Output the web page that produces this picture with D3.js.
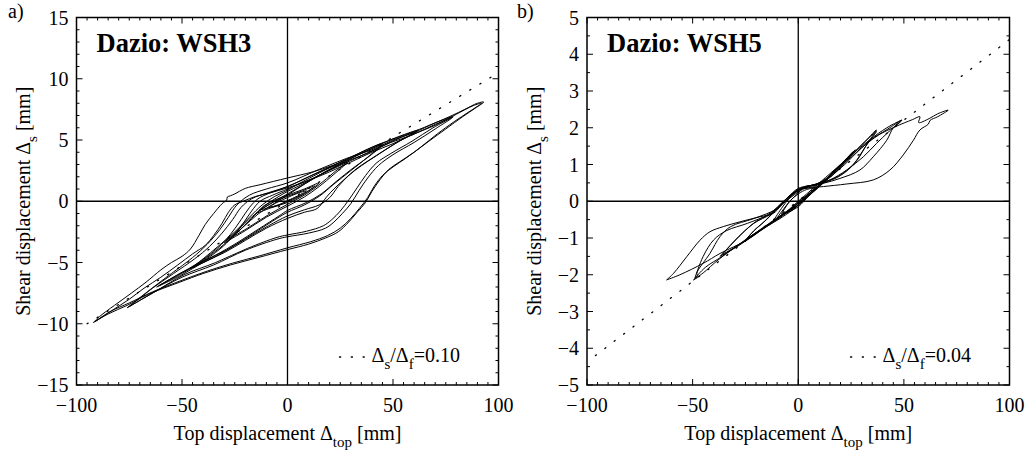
<!DOCTYPE html>
<html lang="en">
<head>
<meta charset="UTF-8">
<title>shear vs top displacement</title>
<script src="https://cdn.jsdelivr.net/npm/d3@7/dist/d3.min.js"></script>
<style>
    * { margin: 0; padding: 0; }
    body { background: #fff; }
    svg text { font-family: "Liberation Serif", "Times New Roman", serif; fill: #000; }
    .curve { fill: none; stroke: #000; stroke-width: 1; }
    .ref { fill: none; stroke: #000; stroke-width: 1.3; stroke-dasharray: 1.2 10.6; stroke-linecap: round; }
</style>
</head>
<body>
<div id="chart"></div>
<script>
// ---- data ----
var xTicks = [-100, -50, 0, 50, 100];
var yTicksA = [-15, -10, -5, 0, 5, 10, 15];
var yTicksB = [-5, -4, -3, -2, -1, 0, 1, 2, 3, 4, 5];

// panel a) Dazio: WSH3, loops as [top displacement, shear displacement]
var loopsA = [
    // outer cycle +/-92
    [[-92,-9.9],[-85,-9.2],[-76,-8.5],[-66,-7.6],[-51,-6.6],[-40,-5.9],[-27,-5.2],[-14,-4.6],[0,-3.95],[10,-3.5],[18,-3.0],[24,-2.5],[29,-1.7],[33,-0.9],[37,-0.1],[40,0.8],[44,1.8],[48,2.6],[53,3.2],[60,4.0],[67,4.9],[75,5.9],[83,6.9],[89,7.6],[93,8.1],
     [90,8.0],[84,7.5],[78,7.0],[70,6.4],[60,5.7],[52,5.2],[44,4.7],[36,4.1],[28,3.4],[21,2.9],[12,2.4],[0,1.9],[-13,1.35],[-20,1.05],[-25,0.6],[-27,0.45],[-28.5,0.35],[-28.8,0.1],[-31,-0.2],[-35,-1.0],[-39,-1.9],[-42,-2.8],[-46,-3.9],[-50,-4.5],[-55,-5.0],[-60,-5.6],[-67,-6.6],[-74,-7.5],[-82,-8.5],[-89,-9.4],[-92,-9.9]],
    // second cycle +/-92
    [[-91,-9.8],[-84,-9.0],[-75,-8.3],[-64,-7.4],[-50,-6.45],[-38,-5.7],[-26,-5.05],[-13,-4.45],[0,-3.8],[11,-3.3],[19,-2.8],[25,-2.2],[30,-1.4],[34,-0.6],[38,0.3],[41,1.2],[45,2.1],[50,2.8],[56,3.5],[63,4.4],[71,5.5],[79,6.5],[86,7.3],[92,8.0],
     [88,7.8],[80,7.1],[70,6.2],[60,5.5],[50,4.7],[40,4.0],[30,3.2],[20,2.4],[10,1.7],[0,1.1],[-8,0.7],[-15,0.4],[-21,0.0],[-25,-0.3],[-28,-0.9],[-31,-1.8],[-35,-2.8],[-39,-3.6],[-45,-4.3],[-52,-5.2],[-60,-6.2],[-68,-7.1],[-75,-8.0],[-83,-8.9],[-91,-9.8]],
    // +/-77
    [[-76,-8.7],[-65,-7.6],[-50,-6.2],[-35,-5.2],[-20,-4.0],[-5,-3.1],[0,-2.9],[10,-2.6],[18,-2.2],[22,-1.7],[26,-1.0],[30,-0.2],[34,0.9],[38,1.9],[43,2.9],[50,3.8],[60,4.8],[70,5.9],[78.5,6.9],
     [70,6.4],[60,5.6],[50,5.0],[40,4.2],[28,3.5],[15,2.6],[0,1.5],[-10,1.0],[-18,0.5],[-24,-0.3],[-28,-1.3],[-32,-2.3],[-38,-3.5],[-45,-4.6],[-55,-5.9],[-65,-7.2],[-76,-8.7]],
    [[-75,-8.6],[-63,-7.4],[-49,-6.0],[-34,-5.0],[-19,-3.85],[-5,-2.95],[0,-2.75],[9,-2.45],[17,-2.0],[21,-1.5],[25,-0.8],[29,0.1],[33,1.1],[37,2.1],[42,3.1],[49,3.9],[59,4.9],[69,6.0],[78,6.85],
     [69,6.2],[59,5.4],[49,4.8],[39,4.0],[27,3.2],[14,2.3],[0,1.2],[-9,0.7],[-17,0.2],[-22,-0.5],[-26,-1.5],[-31,-2.6],[-37,-3.7],[-44,-4.7],[-54,-5.9],[-64,-7.1],[-75,-8.6]],
    // +/-62
    [[-62,-7.0],[-50,-6.0],[-40,-5.0],[-30,-4.2],[-20,-3.2],[-10,-2.2],[0,-1.4],[8,-0.9],[14,-0.6],[18.5,0.35],[22,1.0],[27,1.8],[33,2.7],[40,3.5],[50,4.6],[62,5.8],
     [50,5.1],[40,4.3],[30,3.5],[20,2.8],[10,2.0],[0,1.2],[-8,0.7],[-14,0.2],[-18,-0.5],[-22,-1.5],[-27,-2.7],[-33,-3.8],[-42,-5.0],[-52,-6.0],[-62,-7.0]],
    [[-61,-6.9],[-49,-5.8],[-39,-4.8],[-29,-4.0],[-19,-3.0],[-9,-2.0],[0,-1.2],[8,-0.7],[15,-0.3],[20,0.3],[24,1.2],[29,2.1],[35,2.9],[42,3.7],[51,4.7],[61,5.7],
     [51,5.0],[41,4.2],[31,3.4],[21,2.6],[11,1.8],[0,1.0],[-7,0.5],[-13,0.0],[-17,-0.8],[-21,-1.8],[-26,-2.9],[-32,-3.9],[-41,-5.0],[-51,-5.9],[-61,-6.9]],
    // +/-46
    [[-46,-5.5],[-35,-4.6],[-25,-3.6],[-15,-2.5],[-5,-1.4],[0,-0.9],[8,-0.3],[15,0.4],[22,1.4],[30,2.5],[38,3.6],[45,4.7],
     [35,4.0],[25,3.2],[15,2.3],[5,1.4],[0,0.9],[-6,0.4],[-12,-0.3],[-18,-1.3],[-25,-2.5],[-33,-3.7],[-40,-4.7],[-46,-5.5]],
    [[-45,-5.4],[-34,-4.4],[-24,-3.4],[-14,-2.3],[-4,-1.2],[0,-0.75],[9,-0.1],[16,0.6],[23,1.6],[31,2.7],[39,3.7],[45,4.6],
     [36,4.0],[26,3.1],[16,2.2],[6,1.3],[0,0.8],[-5,0.3],[-11,-0.4],[-17,-1.4],[-24,-2.6],[-32,-3.8],[-39,-4.7],[-45,-5.4]],
    // +/-30
    [[-30,-3.4],[-20,-2.4],[-10,-1.3],[0,-0.4],[8,0.35],[15,1.2],[22,2.2],[29,3.3],
     [20,2.6],[10,1.6],[0,0.6],[-8,-0.2],[-15,-1.0],[-22,-2.1],[-30,-3.4]],
    [[-29,-3.2],[-19,-2.2],[-9,-1.1],[0,-0.25],[8,0.5],[15,1.35],[22,2.35],[28,3.2],
     [19,2.5],[9,1.5],[0,0.5],[-7,-0.25],[-14,-1.05],[-21,-2.1],[-29,-3.2]],
    // small cycles around origin
    [[-15,-1.0],[-8,-0.55],[0,-0.1],[8,0.6],[15,1.5],[8,1.0],[0,0.5],[-6,0.1],[-11,-0.35],[-15,-1.0]],
    [[-13,-0.7],[-7,-0.45],[0,0.0],[7,0.55],[13,1.25],[7,0.85],[0,0.4],[-6,0.0],[-13,-0.7]],
    [[-9,-0.5],[-4,-0.3],[0,0.05],[5,0.45],[9,0.85],[4,0.6],[0,0.3],[-5,-0.1],[-9,-0.5]]
];
var refA = [[-95, -10.0], [100, 10.5]];

// panel b) Dazio: WSH5
var loopsB = [
    // outer cycle
    [[-62.3,-2.14],[-56,-2.0],[-45,-1.69],[-37,-1.42],[-24.4,-1.06],[-15,-0.69],[-8.6,-0.47],[-3,-0.25],[0,-0.1],[5,0.15],[10,0.4],[15,0.65],[22,1.0],[30,1.45],[38,1.8],[46,2.03],[54,2.22],[57.6,2.3],[57,2.14],[62,2.25],[66,2.38],[71,2.48],
     [66,2.3],[62.4,2.2],[61.6,2.1],[57.6,1.94],[54.5,1.66],[49.7,1.26],[43.4,0.85],[35.5,0.58],[22.9,0.47],[11.9,0.4],[5,0.36],[0,0.3],[-5,0.1],[-11.8,-0.33],[-18,-0.42],[-27.6,-0.56],[-35.5,-0.69],[-41.8,-0.83],[-46.5,-1.06],[-52.8,-1.51],[-59,-1.96],[-62.3,-2.14]],
    // +/-50
    [[-49.6,-2.14],[-45,-1.95],[-38,-1.6],[-30,-1.25],[-20,-0.85],[-10,-0.45],[0,-0.05],[8,0.35],[15,0.7],[25,1.2],[35,1.7],[42,1.95],[49,2.21],
     [45,2.0],[41.9,1.66],[35.5,1.21],[29.2,0.85],[19.7,0.62],[11.9,0.49],[5,0.42],[0,0.35],[-5,0.1],[-10,-0.2],[-21,-0.47],[-32,-0.69],[-37,-0.96],[-41.8,-1.42],[-48,-1.96],[-47.5,-2.05],[-49.6,-2.14]],
    [[-49,-2.1],[-44,-1.8],[-36,-1.5],[-26,-1.1],[-16,-0.7],[-8,-0.4],[0,0.0],[8,0.4],[18,0.9],[28,1.4],[38,1.85],[45,2.1],[49,2.2],
     [43,1.9],[37,1.57],[30.8,1.21],[22.9,0.85],[15,0.58],[8,0.45],[0,0.32],[-6,0.05],[-14,-0.35],[-24,-0.6],[-34,-0.8],[-40,-1.05],[-45,-1.5],[-49,-2.1]],
    // +/-37
    [[-37,-1.5],[-28,-1.2],[-18,-0.8],[-8,-0.4],[0,-0.1],[8,0.3],[16,0.75],[25,1.25],[32,1.65],[37,1.94],
     [33,1.6],[27,1.05],[20,0.7],[12,0.5],[5,0.4],[0,0.3],[-6,0.0],[-12,-0.3],[-20,-0.55],[-27,-0.9],[-32,-1.2],[-37,-1.5]],
    [[-36,-1.45],[-27,-1.15],[-17,-0.75],[-7,-0.35],[0,-0.05],[9,0.35],[17,0.8],[26,1.3],[33,1.7],[37,1.9],
     [32,1.5],[26,1.0],[19,0.68],[11,0.5],[4,0.38],[0,0.25],[-7,-0.05],[-13,-0.35],[-21,-0.6],[-28,-0.95],[-33,-1.25],[-36,-1.45]],
    // +/-25
    [[-25,-1.05],[-18,-0.8],[-10,-0.5],[-3,-0.2],[0,-0.05],[6,0.25],[12,0.55],[20,1.0],[27,1.4],
     [22,1.05],[16,0.7],[10,0.5],[4,0.4],[0,0.32],[-5,0.1],[-10,-0.2],[-15,-0.5],[-20,-0.75],[-25,-1.05]],
    [[-24,-1.0],[-17,-0.75],[-9,-0.45],[-2,-0.15],[0,-0.02],[7,0.3],[13,0.6],[21,1.05],[26,1.35],
     [21,1.0],[15,0.68],[9,0.48],[3,0.38],[0,0.28],[-6,0.05],[-11,-0.25],[-16,-0.55],[-21,-0.8],[-24,-1.0]],
    // small cycles around origin
    [[-12,-0.55],[-6,-0.3],[0,-0.1],[6,0.25],[12,0.55],[8,0.45],[3,0.4],[0,0.3],[-4,0.1],[-8,-0.2],[-12,-0.55]],
    [[-10,-0.45],[-5,-0.3],[0,-0.15],[5,0.15],[10,0.45],[6,0.38],[2,0.35],[0,0.22],[-4,0.0],[-10,-0.45]],
    [[-8,-0.35],[-3,-0.25],[0,-0.1],[4,0.15],[8,0.35],[4,0.32],[0,0.2],[-4,0.0],[-8,-0.35]]
];
var refB = [[-96, -4.2], [100, 4.4]];

var panels = [
    { id: "a", tag: "a)", title: "Dazio: WSH3", legend: "0.10", left: 76.5, right: 498.5,
      yDomain: [-15, 15], yTicks: yTicksA, yMinor: 1, loops: loopsA, ref: refA, tagX: 8, ylabX: 30 },
    { id: "b", tag: "b)", title: "Dazio: WSH5", legend: "0.04", left: 587, right: 1009.5,
      yDomain: [-5, 5], yTicks: yTicksB, yMinor: 0.5, loops: loopsB, ref: refB, tagX: 517, ylabX: 541 }
];

var plotTop = 17.5, plotBottom = 385;
var fmt = function(v) { return v < 0 ? "\u2212" + Math.abs(v) : String(v); };

var svg = d3.select("#chart").append("svg")
    .attr("width", 1028)
    .attr("height", 455);

panels.forEach(function(p) {
    var x = d3.scaleLinear().domain([-100, 100]).range([p.left, p.right]);
    var y = d3.scaleLinear().domain(p.yDomain).range([plotBottom, plotTop]);

    var g = svg.append("g");

    svg.append("clipPath").attr("id", "clip-" + p.id)
        .append("rect")
        .attr("x", p.left).attr("y", plotTop)
        .attr("width", p.right - p.left).attr("height", plotBottom - plotTop);

    // zero lines
    g.append("line").attr("x1", x(0)).attr("x2", x(0)).attr("y1", plotTop).attr("y2", plotBottom)
        .attr("stroke", "#000").attr("stroke-width", 1.3);
    g.append("line").attr("x1", p.left).attr("x2", p.right).attr("y1", y(0)).attr("y2", y(0))
        .attr("stroke", "#000").attr("stroke-width", 1.3);

    var plot = g.append("g").attr("clip-path", "url(#clip-" + p.id + ")");

    // reference line Ds/Df
    plot.append("path")
        .attr("class", "ref")
        .attr("d", d3.line().x(function(d) { return x(d[0]); }).y(function(d) { return y(d[1]); })(p.ref));

    var line = d3.line()
        .x(function(d) { return x(d[0]); })
        .y(function(d) { return y(d[1]); })
        .curve(d3.curveCatmullRom.alpha(0.5));

    plot.selectAll("path.curve")
        .data(p.loops)
        .enter()
        .append("path")
        .attr("class", "curve")
        .attr("d", line);

    // inward ticks on all four sides
    var xMinor = d3.range(-100, 100.1, 5);
    var yMinor = d3.range(p.yDomain[0], p.yDomain[1] + 0.01, p.yMinor);
    var tk = g.append("g").attr("stroke", "#000").attr("stroke-width", 1);
    xMinor.forEach(function(v) {
        var len = xTicks.indexOf(v) >= 0 ? 6 : 3;
        tk.append("line").attr("x1", x(v)).attr("x2", x(v)).attr("y1", plotBottom).attr("y2", plotBottom - len);
        tk.append("line").attr("x1", x(v)).attr("x2", x(v)).attr("y1", plotTop).attr("y2", plotTop + len);
    });
    yMinor.forEach(function(v) {
        var len = p.yTicks.indexOf(Math.round(v * 100) / 100) >= 0 ? 6 : 3;
        tk.append("line").attr("x1", p.left).attr("x2", p.left + len).attr("y1", y(v)).attr("y2", y(v));
        tk.append("line").attr("x1", p.right).attr("x2", p.right - len).attr("y1", y(v)).attr("y2", y(v));
    });

    // frame
    g.append("rect")
        .attr("x", p.left).attr("y", plotTop)
        .attr("width", p.right - p.left).attr("height", plotBottom - plotTop)
        .attr("fill", "none").attr("stroke", "#000").attr("stroke-width", 1.5);

    // tick labels
    g.selectAll("text.xt").data(xTicks).enter().append("text")
        .attr("class", "xt")
        .attr("x", function(d) { return x(d); })
        .attr("y", plotBottom + 27)
        .attr("text-anchor", "middle")
        .style("font-size", "20px")
        .text(fmt);
    g.selectAll("text.yt").data(p.yTicks).enter().append("text")
        .attr("class", "yt")
        .attr("x", p.left - 8)
        .attr("y", function(d) { return y(d) + 7; })
        .attr("text-anchor", "end")
        .style("font-size", "20px")
        .text(fmt);

    // axis titles
    var xl = g.append("text")
        .attr("x", x(0))
        .attr("y", 440)
        .attr("text-anchor", "middle")
        .style("font-size", "20px");
    xl.append("tspan").text("Top displacement \u0394");
    xl.append("tspan").attr("dy", 7).style("font-size", "15px").text("top");
    xl.append("tspan").attr("dy", -7).text(" [mm]");

    var yl = g.append("text")
        .attr("transform", "translate(" + p.ylabX + "," + (plotTop + plotBottom) / 2 + ") rotate(-90)")
        .attr("text-anchor", "middle")
        .style("font-size", "20px");
    yl.append("tspan").text("Shear displacement \u0394");
    yl.append("tspan").attr("dy", 7).style("font-size", "15px").text("s");
    yl.append("tspan").attr("dy", -7).text(" [mm]");

    // title inside
    g.append("text")
        .attr("x", p.left + 20)
        .attr("y", 52)
        .style("font-size", "26.5px")
        .style("font-weight", "bold")
        .text(p.title);

    // panel tag
    g.append("text")
        .attr("x", p.tagX)
        .attr("y", 18)
        .style("font-size", "20px")
        .text(p.tag);

    // legend
    var lx = p.right - 159;
    g.append("line")
        .attr("class", "ref")
        .attr("x1", lx).attr("x2", lx + 26)
        .attr("y1", 357).attr("y2", 357);
    var lt = g.append("text")
        .attr("x", lx + 32)
        .attr("y", 362)
        .style("font-size", "20px");
    lt.append("tspan").text("\u0394");
    lt.append("tspan").attr("dy", 7).style("font-size", "15px").text("s");
    lt.append("tspan").attr("dy", -7).text("/\u0394");
    lt.append("tspan").attr("dy", 7).style("font-size", "15px").text("f");
    lt.append("tspan").attr("dy", -7).text("=" + p.legend);
});
</script>
</body>
</html>
